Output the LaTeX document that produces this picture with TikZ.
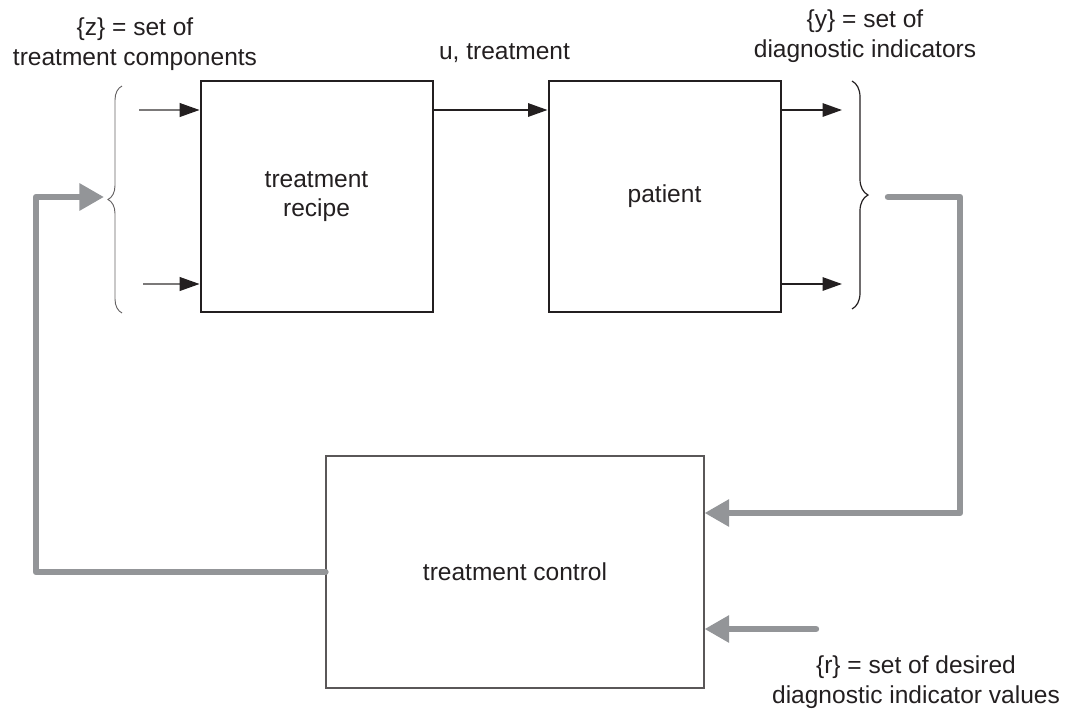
\documentclass[tikz,border=0pt]{standalone}
\usepackage{fontspec}
\setmainfont{Liberation Sans}
\usetikzlibrary{arrows.meta,decorations.pathreplacing}
\definecolor{fbgray}{RGB}{147,149,152}
\definecolor{ink}{RGB}{35,31,32}
\begin{document}
\begin{tikzpicture}[x=0.75pt,y=-0.75pt,
  every node/.style={text=ink},
  lbl/.style={font=\fontsize{18.4}{22}\selectfont, align=center, inner sep=0pt},
  blockbox/.style={draw=ink, line width=1.5pt, minimum width=174pt, minimum height=173pt, inner sep=0pt,
    font=\fontsize{18.4}{21.5}\selectfont, align=center},
  ctrlbox/.style={draw=ink!75, line width=0.8pt, minimum width=283.5pt, minimum height=174pt, inner sep=0pt,
    font=\fontsize{18.4}{21.5}\selectfont, align=center},
  blk/.style={draw=ink, line width=1.3pt, -{Triangle[length=14.5pt,width=10pt]}},
  thinin/.style={draw=ink!60, line width=0.8pt, -{Triangle[length=15pt,width=10.5pt,color=ink,fill=ink]}},
  fb/.style={draw=fbgray, line width=4.8pt, line cap=round, line join=round},
  fbarr/.style={fb, -{Triangle[length=18.5pt,width=19.5pt,fill=fbgray]}},
  bracestyle/.style={decorate, line width=0.9pt, decoration={brace, amplitude=#1}},
]
\useasboundingbox (0,0) rectangle (1065,711);

% blocks
\node[blockbox] (recipe) at (316.5,196.5) {\raisebox{-1.5pt}{\begin{tabular}{@{}c@{}}treatment\\[0.5pt]recipe\end{tabular}}};
\node[blockbox] (patient) at (664.5,196.5) {\raisebox{-2pt}{patient}};
\node[ctrlbox] (control) at (515,572) {treatment control};

% labels
\node[lbl] (zlabel) at (135,44) {\{z\} = set of\\treatment components};
\node[lbl, anchor=base] (ulabel) at (504.5,59) {u, treatment};
\node[lbl] (ylabel) at (865,36) {\{y\} = set of\\diagnostic indicators};
\node[lbl] (rlabel) at (916,682) {\{r\} = set of desired\\diagnostic indicator values};

% coordinates
\coordinate (zin1) at (139,110);
\coordinate (zin2) at (143,284);
\coordinate (uy) at (490,110);
\coordinate (yout1) at (842,110);
\coordinate (yout2) at (842,284);
\coordinate (zbtop) at (122,86);
\coordinate (zbbot) at (122,313);
\coordinate (ybtop) at (852,81);
\coordinate (ybbot) at (852,309);
\coordinate (zb) at (104,197);
\coordinate (fbleft) at (36,197);
\coordinate (ys) at (888,197);
\coordinate (yc) at (960,513);
\coordinate (rs) at (816,629);

% braces
\draw[bracestyle=10.5pt, draw=ink!70, line width=0.7pt] (zbbot) -- (zbtop);
\draw[bracestyle=12pt, draw=ink] (ybtop) -- (ybbot);

% input / output arrows
\draw[thinin] (zin1) -- (recipe.west |- zin1);
\draw[thinin] (zin2) -- (recipe.west |- zin2);
\draw[blk] (recipe.east |- uy) -- (patient.west |- uy);
\draw[blk] (patient.east |- yout1) -- (yout1);
\draw[blk] (patient.east |- yout2) -- (yout2);

% feedback
\draw[fbarr] (control.west) -| (fbleft) -- (zb);
\draw[fbarr] (ys) -| (yc) -- (control.east |- yc);
\draw[fbarr] (rs) -- (control.east |- rs);
\end{tikzpicture}
\end{document}
